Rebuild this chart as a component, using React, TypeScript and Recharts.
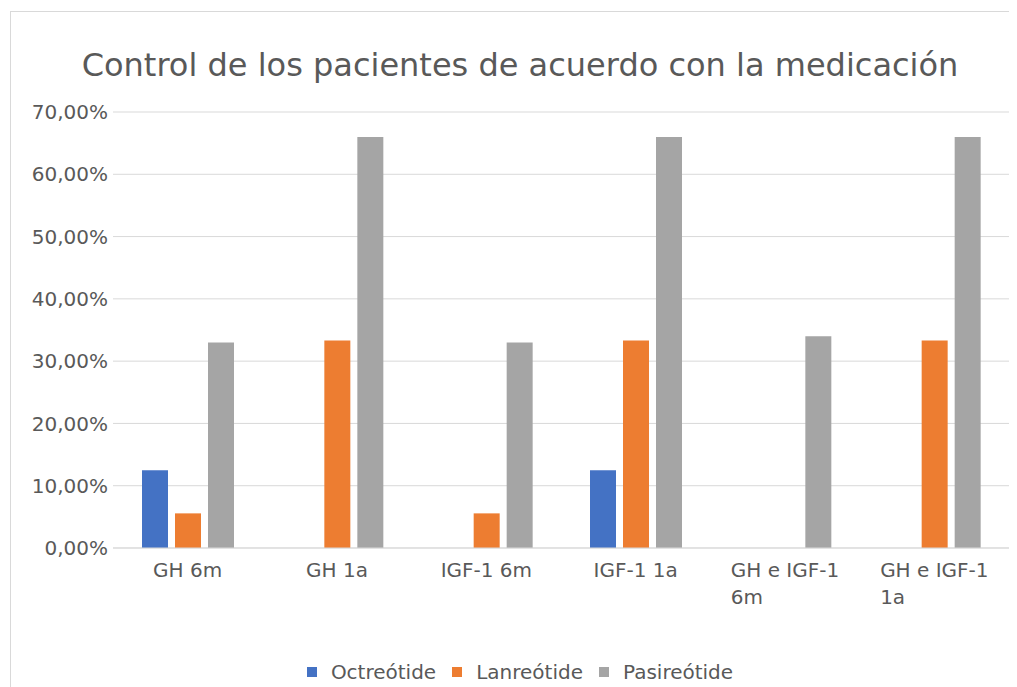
import React from "react";
import { BarChart, Bar, XAxis, YAxis, CartesianGrid, Legend } from "recharts";

// Categories (control criterion and follow-up time)
const categories = ["GH 6m", "GH 1a", "IGF-1 6m", "IGF-1 1a", "GH e IGF-1 6m", "GH e IGF-1 1a"];

// Percentage of controlled patients per drug
const octreotide = [12.5, 0, 0, 12.5, 0, 0];
const lanreotide = [5.56, 33.33, 5.56, 33.33, 0, 33.33];
const pasireotide = [33, 66, 33, 66, 34, 66];

const yTicks = [0, 10, 20, 30, 40, 50, 60, 70];

const seriesNames = ["Octreótide", "Lanreótide", "Pasireótide"];
const seriesKeys = ["octreotide", "lanreotide", "pasireotide"];
const seriesColors = ["#4472C4", "#ED7D31", "#A5A5A5"];

const data = categories.map((name, i) => ({
  name,
  octreotide: octreotide[i],
  lanreotide: lanreotide[i],
  pasireotide: pasireotide[i],
}));

const FONT = '"DejaVu Sans", Verdana, sans-serif';
const TEXT = "#595959";
const GRID = "#d9d9d9";

const formatPct = (v: number) => `${v.toFixed(2).replace(".", ",")}%`;

let measureCtx: CanvasRenderingContext2D | null = null;
function textWidth(s: string): number {
  if (!measureCtx) measureCtx = document.createElement("canvas").getContext("2d");
  if (!measureCtx) return s.length * 11;
  measureCtx.font = `20px ${FONT}`;
  return measureCtx.measureText(s).width;
}

function wrapLabel(label: string, maxWidth: number): string[] {
  const words = label.split(" ");
  const lines: string[] = [];
  let current = "";
  for (const w of words) {
    const candidate = current ? `${current} ${w}` : w;
    if (current && textWidth(candidate) > maxWidth) {
      lines.push(current);
      current = w;
    } else {
      current = candidate;
    }
  }
  if (current) lines.push(current);
  return lines;
}

// Category label: wrapped lines, left-aligned inside a block centred on the band
const CategoryTick = (props: any) => {
  const { x, y, payload } = props;
  const lines = wrapLabel(String(payload.value), 120);
  const maxW = Math.max(...lines.map(textWidth));
  const left = x - maxW / 2;
  return (
    <text x={left} y={y + 29} textAnchor="start" fill={TEXT} fontSize={20} fontFamily={FONT}>
      {lines.map((l, i) => (
        <tspan key={i} x={left} dy={i === 0 ? 0 : 27}>
          {l}
        </tspan>
      ))}
    </text>
  );
};

// Legend keeps the series order (Octreótide, Lanreótide, Pasireótide)
const LegendContent = (props: any) => {
  const payload = (props.payload || []) as any[];
  const items = seriesNames.map((name, i) => {
    const found = payload.find((p) => p.value === name);
    return { value: name, color: found ? found.color : seriesColors[i] };
  });
  return (
    <div
      style={{
        display: "flex",
        justifyContent: "center",
        alignItems: "center",
        height: 24,
        fontFamily: FONT,
        fontSize: 20,
        color: TEXT,
        whiteSpace: "nowrap",
      }}
    >
      {items.map((item, i) => (
        <div key={i} style={{ display: "flex", alignItems: "center", marginLeft: i ? 16 : 0 }}>
          <span
            style={{ display: "inline-block", width: 10, height: 10, background: item.color, marginRight: 14 }}
          />
          <span>{item.value}</span>
        </div>
      ))}
    </div>
  );
};

export default function App() {
  return (
    <div style={{ position: "relative", width: 1009, height: 679 }}>
      <style>{"html{overflow:hidden}"}</style>
      <div
        style={{
          position: "absolute",
          left: 2,
          top: 3,
          width: 1010,
          height: 690,
          borderLeft: `1px solid ${GRID}`,
          borderTop: `1px solid ${GRID}`,
          boxSizing: "border-box",
        }}
      />
      <div
        style={{
          position: "absolute",
          left: 0,
          top: 38,
          width: 1009,
          paddingLeft: 15,
          boxSizing: "border-box",
          textAlign: "center",
          fontFamily: FONT,
          fontSize: 32,
          lineHeight: "38px",
          color: TEXT,
          whiteSpace: "nowrap",
        }}
      >
        Control de los pacientes de acuerdo con la medicación
      </div>
      <div style={{ position: "absolute", left: 0, top: 0 }}>
        <BarChart
          width={1009}
          height={679}
          data={data}
          margin={{ top: 104, right: 8, bottom: 79, left: 0 }}
          barSize={26}
          barGap={7}
        >
          <CartesianGrid vertical={false} stroke={GRID} strokeWidth={1} />
          <XAxis
            dataKey="name"
            height={60}
            tickSize={0}
            tickMargin={0}
            tickLine={false}
            axisLine={{ stroke: GRID }}
            tick={<CategoryTick />}
            interval={0}
          />
          <YAxis
            width={105}
            domain={[0, 70]}
            ticks={yTicks}
            tickFormatter={formatPct}
            tickSize={0}
            tickMargin={5}
            tickLine={false}
            axisLine={false}
            tick={{ fill: TEXT, fontSize: 20, fontFamily: FONT }}
            interval={0}
          />
          <Legend
            layout="horizontal"
            verticalAlign="middle"
            align="center"
            itemSorter={null as any}
            wrapperStyle={{ top: 652, left: 15, width: 994, height: 24 }}
            content={<LegendContent />}
          />
          {seriesKeys.map((k, i) => (
            <Bar key={k} dataKey={k} name={seriesNames[i]} fill={seriesColors[i]} isAnimationActive={false} />
          ))}
        </BarChart>
      </div>
    </div>
  );
}
